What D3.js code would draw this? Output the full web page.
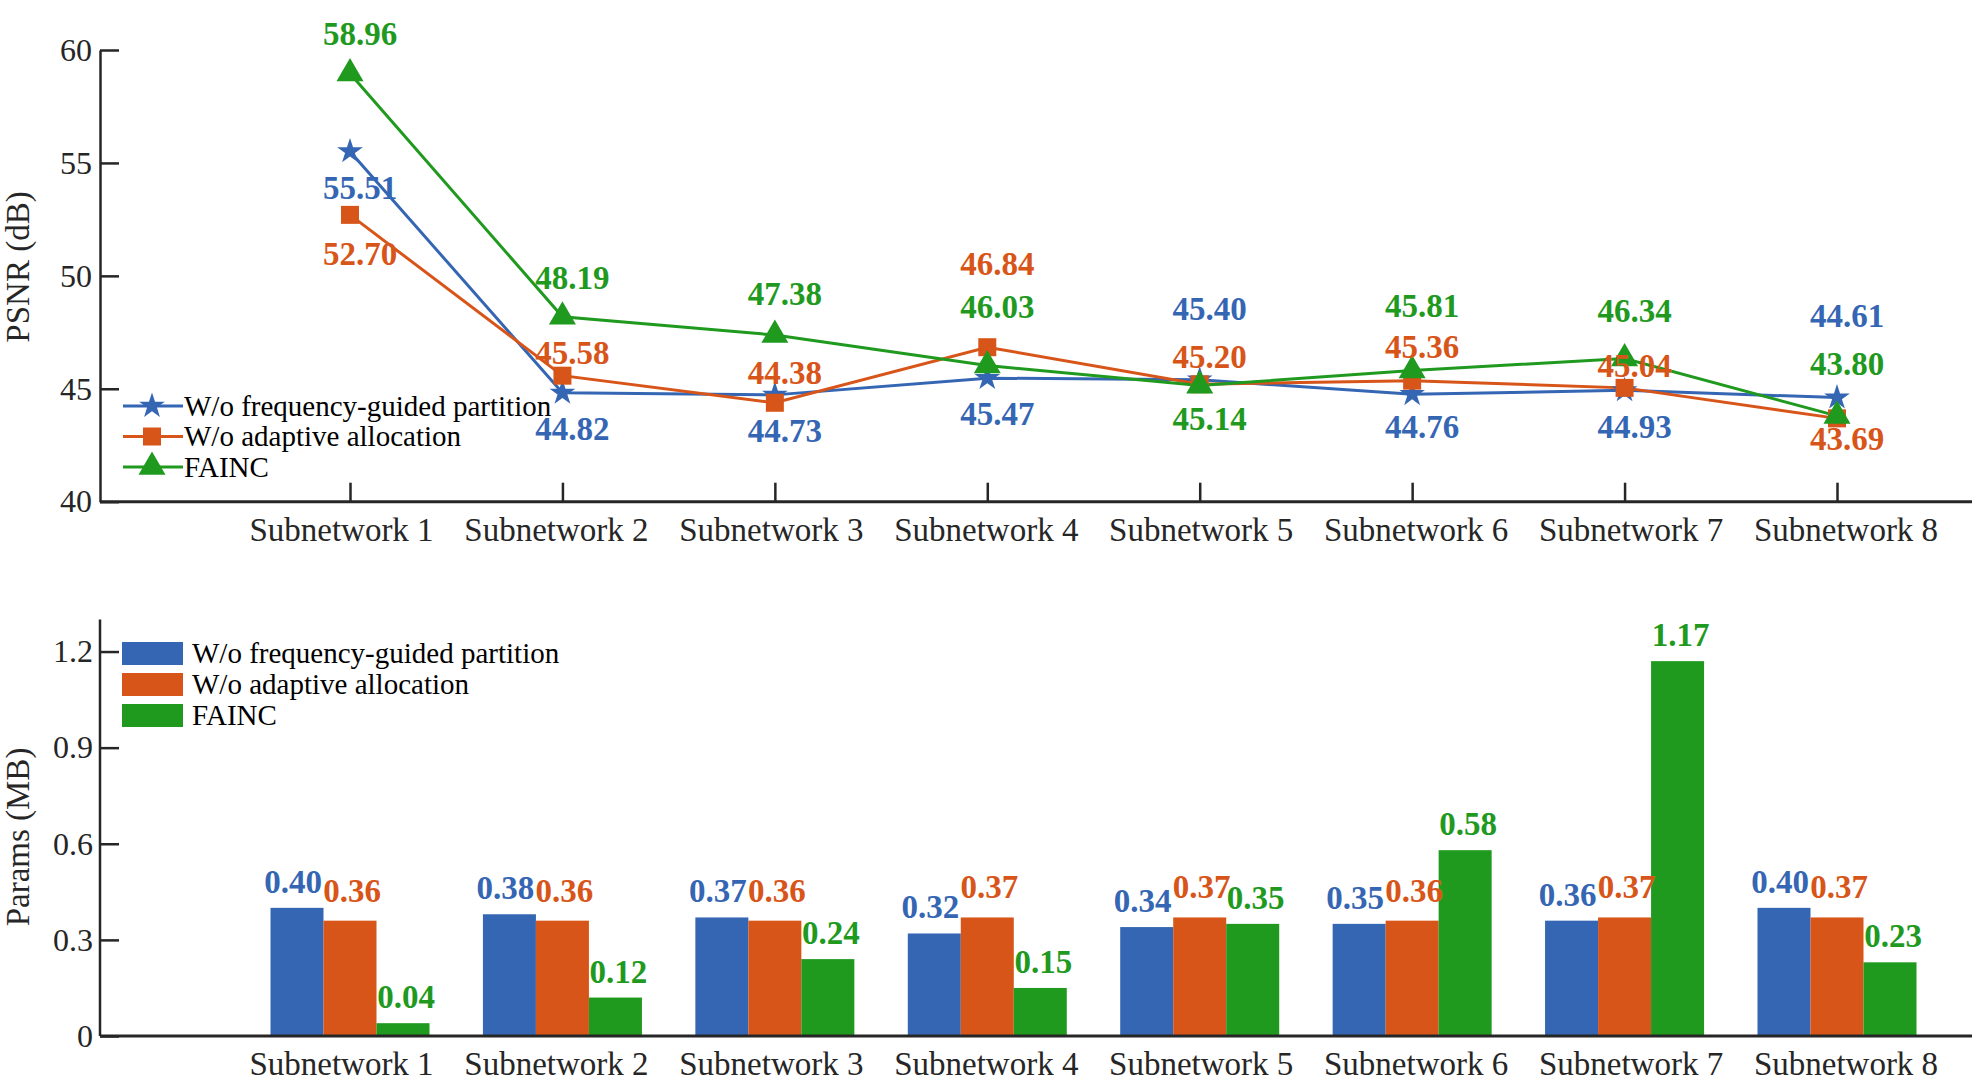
<!DOCTYPE html>
<html>
<head>
<meta charset="utf-8">
<script src="https://cdn.jsdelivr.net/npm/d3@7"></script>
<style>
  body { margin: 0; background: #fff; }
  text { font-family: "Liberation Serif", "Times New Roman", serif; }
</style>
</head>
<body>
<div id="chart"></div>
<script>
// Categories and series names
var categories = ["Subnetwork 1", "Subnetwork 2", "Subnetwork 3", "Subnetwork 4",
                  "Subnetwork 5", "Subnetwork 6", "Subnetwork 7", "Subnetwork 8"];
var seriesNames = ["W/o frequency-guided partition", "W/o adaptive allocation", "FAINC"];

// PSNR (dB) values
var psnrNoPartition = [55.51, 44.82, 44.73, 45.47, 45.40, 44.76, 44.93, 44.61];
var psnrNoAllocation = [52.70, 45.58, 44.38, 46.84, 45.20, 45.36, 45.04, 43.69];
var psnrFainc = [58.96, 48.19, 47.38, 46.03, 45.14, 45.81, 46.34, 43.80];

// Params (MB) values
var paramsNoPartition = [0.40, 0.38, 0.37, 0.32, 0.34, 0.35, 0.36, 0.40];
var paramsNoAllocation = [0.36, 0.36, 0.36, 0.37, 0.37, 0.36, 0.37, 0.37];
var paramsFainc = [0.04, 0.12, 0.24, 0.15, 0.35, 0.58, 1.17, 0.23];

// Tick labels
var psnrTicks = [40, 45, 50, 55, 60];
var paramsTicks = ["0", "0.3", "0.6", "0.9", "1.2"];

// Layout only: where each PSNR label sits relative to its marker (px)
var psnrLabelShift = [
    [48, 47, 47, 47, -60, 44, 48, -71],
    [50, -12, -19, -72, -16, -23, -11, 32],
    [-28, -28, -30, -48, 44, -53, -37, -41]
];

var colors = ["#3566B3", "#D85519", "#1F9A1F"];
var axisColor = "#262626";

var width = 1972, height = 1082;
var svg = d3.select("#chart").append("svg")
    .attr("width", width)
    .attr("height", height);

// Shared category positions
var x = d3.scalePoint().domain(categories).range([350, 1837]);

// category labels sit a little off their ticks in the original
var shiftCategoryLabels = function(g) {
    g.selectAll(".tick text").attr("x", function(d, i) { return -9 + i * 2.5; });
};

/* ---------------- Top: PSNR line chart ---------------- */
var yTop = d3.scaleLinear().domain([40, 60]).range([501.7, 50]);
var psnrSeries = [psnrNoPartition, psnrNoAllocation, psnrFainc];
var symbols = [
    d3.symbol().type(d3.symbolStar).size(205),
    d3.symbol().type(d3.symbolSquare).size(324),
    d3.symbol().type(d3.symbolTriangle).size(316)
];

var topG = svg.append("g");

// y axis
var yAxisTop = topG.append("g")
    .attr("transform", "translate(100,0)")
    .call(d3.axisLeft(yTop).tickValues(psnrTicks).tickSize(-19).tickSizeOuter(0).tickPadding(8));
// x axis ticks
var xAxisTop = topG.append("g")
    .attr("transform", "translate(0," + yTop(40) + ")")
    .call(d3.axisBottom(x).tickSize(-19).tickSizeOuter(0).tickPadding(16));
xAxisTop.select(".domain").remove();
shiftCategoryLabels(xAxisTop);
topG.append("line")
    .attr("x1", 100).attr("x2", width)
    .attr("y1", yTop(40)).attr("y2", yTop(40))
    .attr("stroke", axisColor).attr("stroke-width", 3);

// Lines
var line = d3.line()
    .x(function(d, i) { return x(categories[i]); })
    .y(function(d) { return yTop(d); });

psnrSeries.forEach(function(vals, s) {
    topG.append("path")
        .attr("d", line(vals))
        .attr("fill", "none")
        .attr("stroke", colors[s])
        .attr("stroke-width", 3);
});
psnrSeries.forEach(function(vals, s) {
    topG.selectAll(".m" + s)
        .data(vals)
        .enter()
        .append("path")
        .attr("d", symbols[s])
        .attr("transform", function(d, i) {
            return "translate(" + x(categories[i]) + "," + yTop(d) + ")";
        })
        .attr("fill", colors[s]);
});
// Value labels
psnrSeries.forEach(function(vals, s) {
    topG.selectAll(".l" + s)
        .data(vals)
        .enter()
        .append("text")
        .attr("x", function(d, i) { return x(categories[i]) + 10; })
        .attr("y", function(d, i) { return yTop(d) + psnrLabelShift[s][i]; })
        .attr("text-anchor", "middle")
        .style("font-size", "33px")
        .style("font-weight", "700")
        .attr("fill", colors[s])
        .text(function(d) { return d.toFixed(2); });
});

// Legend (top)
var legTop = topG.append("g");
seriesNames.forEach(function(name, s) {
    var ly = 406 + s * 30.5;
    legTop.append("line")
        .attr("x1", 123).attr("x2", 183)
        .attr("y1", ly).attr("y2", ly)
        .attr("stroke", colors[s]).attr("stroke-width", 3);
    legTop.append("path")
        .attr("d", symbols[s])
        .attr("transform", "translate(152," + ly + ")")
        .attr("fill", colors[s]);
    legTop.append("text")
        .attr("x", 184).attr("y", ly)
        .attr("dy", "0.33em")
        .style("font-size", "29px")
        .attr("fill", "#000")
        .text(name);
});

// y title
topG.append("text")
    .attr("transform", "translate(29,267) rotate(-90)")
    .attr("text-anchor", "middle")
    .style("font-size", "33px")
    .attr("fill", axisColor)
    .text("PSNR (dB)");

/* ---------------- Bottom: Params bar chart ---------------- */
var yBot = d3.scaleLinear().domain([0, 1.3]).range([1036, 619.5]);
var xInner = d3.scaleBand().domain(seriesNames).range([-79.5, 79.5]);
var paramsSeries = [paramsNoPartition, paramsNoAllocation, paramsFainc];
var barLabelShiftX = [-4, 2, 3];

var botG = svg.append("g");

paramsSeries.forEach(function(vals, s) {
    botG.selectAll(".b" + s)
        .data(vals)
        .enter()
        .append("rect")
        .attr("x", function(d, i) { return x(categories[i]) + xInner(seriesNames[s]); })
        .attr("y", function(d) { return yBot(d); })
        .attr("width", xInner.bandwidth())
        .attr("height", function(d) { return yBot(0) - yBot(d); })
        .attr("fill", colors[s]);
});
paramsSeries.forEach(function(vals, s) {
    botG.selectAll(".bl" + s)
        .data(vals)
        .enter()
        .append("text")
        .attr("x", function(d, i) {
            return x(categories[i]) + xInner(seriesNames[s]) + xInner.bandwidth() / 2 + barLabelShiftX[s];
        })
        .attr("y", function(d) { return yBot(d) - (s === 1 ? 19 : 15); })
        .attr("text-anchor", "middle")
        .style("font-size", "33px")
        .style("font-weight", "700")
        .attr("fill", colors[s])
        .text(function(d) { return d.toFixed(2); });
});

// y axis
var yAxisBot = botG.append("g")
    .attr("transform", "translate(100,0)")
    .call(d3.axisLeft(yBot)
        .tickValues(paramsTicks.map(Number))
        .tickFormat(function(d, i) { return paramsTicks[i]; })
        .tickSize(-19).tickSizeOuter(0).tickPadding(7));
// x axis labels
var xAxisBot = botG.append("g")
    .attr("transform", "translate(0," + yBot(0) + ")")
    .call(d3.axisBottom(x).tickSize(0).tickPadding(16));
xAxisBot.select(".domain").remove();
shiftCategoryLabels(xAxisBot);
botG.append("line")
    .attr("x1", 100).attr("x2", width)
    .attr("y1", yBot(0)).attr("y2", yBot(0))
    .attr("stroke", axisColor).attr("stroke-width", 3);

// Legend (bottom)
seriesNames.forEach(function(name, s) {
    var ly = 653.5 + s * 31;
    botG.append("rect")
        .attr("x", 122).attr("y", ly - 11.5)
        .attr("width", 61).attr("height", 23)
        .attr("fill", colors[s]);
    botG.append("text")
        .attr("x", 192).attr("y", ly)
        .attr("dy", "0.33em")
        .style("font-size", "29px")
        .attr("fill", "#000")
        .text(name);
});

// y title
botG.append("text")
    .attr("transform", "translate(29,837) rotate(-90)")
    .attr("text-anchor", "middle")
    .style("font-size", "33px")
    .attr("fill", axisColor)
    .text("Params (MB)");

// Axis styling
[yAxisTop, xAxisTop, yAxisBot, xAxisBot].forEach(function(g) {
    g.selectAll(".domain").attr("stroke", axisColor).attr("stroke-width", 2.5);
    g.selectAll(".tick line").attr("stroke", axisColor).attr("stroke-width", 2.5);
    g.selectAll(".tick text")
        .attr("fill", axisColor)
        .style("font-family", "'Liberation Serif', 'Times New Roman', serif");
});
[yAxisTop, yAxisBot].forEach(function(g) {
    g.selectAll(".tick text").style("font-size", "32px");
});
[xAxisTop, xAxisBot].forEach(function(g) {
    g.selectAll(".tick text").style("font-size", "33px");
});
// Bottom y axis line runs a bit above the last tick
yAxisBot.select(".domain").attr("d", "M0," + yBot(1.3) + "V" + yBot(0));
</script>
</body>
</html>
